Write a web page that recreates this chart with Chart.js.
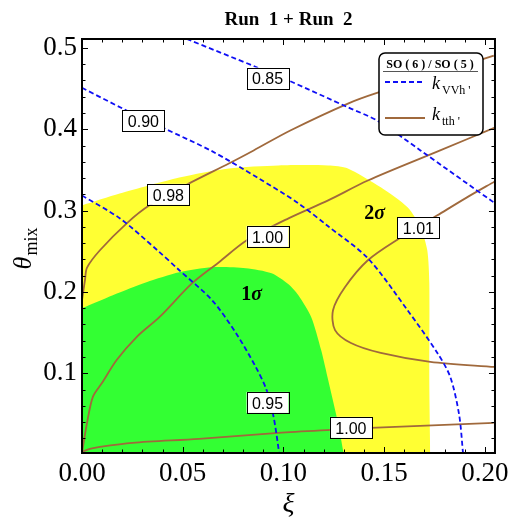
<!DOCTYPE html>
<html>
<head>
<meta charset="utf-8">
<script src="https://cdn.jsdelivr.net/npm/chart.js@4.4.1/dist/chart.umd.min.js"></script>
<style>
  html, body { margin: 0; padding: 0; background: #fff; }
</style>
</head>
<body>
<canvas id="chart" width="514" height="526"></canvas>
<script>
// ---- data (xi, theta_mix) ----
// k_VVh' contours (blue dashed)
const vvh085Xi    = [0.052, 0.087, 0.1025, 0.132, 0.147, 0.168, 0.205];
const vvh085Theta = [0.511, 0.476, 0.460, 0.427, 0.410, 0.374, 0.309];
const vvh090Xi    = [0, 0.0202, 0.0409, 0.0645, 0.0877, 0.1074, 0.1222, 0.1419, 0.1616, 0.1764, 0.1828, 0.1872, 0.1892];
const vvh090Theta = [0.451, 0.4255, 0.401, 0.3731, 0.3396, 0.309, 0.2807, 0.2414, 0.1775, 0.125, 0.0955, 0.049, 0.0];
const vvh095Xi    = [0, 0.0187, 0.0374, 0.0483, 0.0645, 0.0764, 0.0862, 0.0916, 0.0951, 0.098];
const vvh095Theta = [0.3185, 0.2906, 0.2513, 0.2267, 0.19, 0.1495, 0.108, 0.0796, 0.0464, 0.0];

// k_tth' contours (brown)
const tth098Xi    = [0, 0.0015, 0.0025, 0.0089, 0.0222, 0.0335, 0.0532, 0.0729, 0.0852, 0.1034, 0.132, 0.1468, 0.2044];
const tth098Theta = [0.19, 0.215, 0.230, 0.2513, 0.2844, 0.3065, 0.3335, 0.358, 0.374, 0.3985, 0.4316, 0.445, 0.4905];
const tth100aXi    = [0, 0.0025, 0.0054, 0.0099, 0.0172, 0.0271, 0.0384, 0.0547, 0.068, 0.0818, 0.1025, 0.1222, 0.1419, 0.1778, 0.2049];
const tth100aTheta = [0.0022, 0.039, 0.071, 0.088, 0.1164, 0.1446, 0.169, 0.2108, 0.2366, 0.2635, 0.2905, 0.3126, 0.337, 0.374, 0.4021];
const tth100bXi    = [0, 0.0039, 0.0089, 0.0251, 0.0581, 0.0975, 0.1236, 0.1433, 0.2044];
const tth100bTheta = [0.0034, 0.0071, 0.0096, 0.0145, 0.0194, 0.0267, 0.0304, 0.0329, 0.039];
const tth101Xi    = [0.2049, 0.1911, 0.1764, 0.1576, 0.1419, 0.1305, 0.1246, 0.1256, 0.1335, 0.1483, 0.1729, 0.2049];
const tth101Theta = [0.3359, 0.3163, 0.2942, 0.266, 0.239, 0.2058, 0.1776, 0.1531, 0.1372, 0.125, 0.114, 0.1078];

// allowed regions: upper boundaries
const sigma2Xi    = [0, 0.0187, 0.0483, 0.0729, 0.0975, 0.1222, 0.132, 0.1483, 0.1616, 0.168, 0.1714, 0.1724, 0.1724, 0.1729];
const sigma2Theta = [0.3064, 0.321, 0.3408, 0.3519, 0.3556, 0.3556, 0.3519, 0.3286, 0.304, 0.2795, 0.2513, 0.2108, 0.0918, 0.0];
const sigma1Xi    = [0, 0.0153, 0.032, 0.0483, 0.0645, 0.0813, 0.0941, 0.1025, 0.1074, 0.1138, 0.1187, 0.1222, 0.1271, 0.13];
const sigma1Theta = [0.18, 0.196, 0.212, 0.2243, 0.2304, 0.2292, 0.223, 0.2095, 0.196, 0.169, 0.1286, 0.0918, 0.039, 0.0];

// contour labels
const labelText  = ['0.85', '0.90', '0.98', '1.00', '1.01', '0.95', '1.00'];
const labelXi    = [0.0921, 0.0305, 0.0429, 0.0921, 0.167, 0.0921, 0.1335];
const labelTheta = [0.463, 0.4107, 0.32, 0.2684, 0.2789, 0.0642, 0.0335];

// region labels
const regionNum   = ['1', '2'];
const regionXi    = [0.0842, 0.1453];
const regionTheta = [0.1985, 0.2979];

// ticks
const xTicks = [0, 0.05, 0.10, 0.15, 0.20];
const yTicks = [0.1, 0.2, 0.3, 0.4, 0.5];
const xMinor = [0.01, 0.02, 0.03, 0.04, 0.06, 0.07, 0.08, 0.09, 0.11, 0.12, 0.13, 0.14, 0.16, 0.17, 0.18, 0.19];
const yMinor = [0.02, 0.04, 0.06, 0.08, 0.12, 0.14, 0.16, 0.18, 0.22, 0.24, 0.26, 0.28, 0.32, 0.34, 0.36, 0.38, 0.42, 0.44, 0.46, 0.48];

const BLUE = '#0f0ff5';
const BROWN = '#a0693c';
const SERIF = "'Liberation Serif', 'DejaVu Serif', serif";
const SANS = "'Liberation Sans', Arial, sans-serif";

function pts(xs, ys) {
    return xs.map((x, i) => ({ x: x, y: ys[i] }));
}

function blueLine(xs, ys) {
    return { data: pts(xs, ys), showLine: true, borderColor: BLUE, borderWidth: 1.8,
             borderDash: [5, 3], pointRadius: 0, tension: 0.3, fill: false };
}
function brownLine(xs, ys) {
    return { data: pts(xs, ys), showLine: true, borderColor: BROWN, borderWidth: 1.8,
             pointRadius: 0, tension: 0.3, fill: false };
}
function region(xs, ys, color) {
    return { data: pts(xs, ys), showLine: true, borderColor: 'rgba(0,0,0,0)', borderWidth: 0,
             backgroundColor: color, pointRadius: 0, tension: 0.25, fill: 'start' };
}

// labels, frame ticks, legend and axis titles
const overlay = {
    id: 'overlay',
    afterDatasetsDraw(chart) {
        const { ctx, chartArea: a, scales: { x, y } } = chart;
        ctx.save();

        // contour labels
        ctx.font = '16px ' + SANS;
        ctx.textAlign = 'center';
        ctx.textBaseline = 'middle';
        labelText.forEach((t, i) => {
            const px = x.getPixelForValue(labelXi[i]);
            const py = y.getPixelForValue(labelTheta[i]);
            const w = 42, h = 21;
            ctx.fillStyle = '#fff';
            ctx.fillRect(px - w / 2, py - h / 2, w, h);
            ctx.strokeStyle = '#000';
            ctx.lineWidth = 1;
            ctx.strokeRect(Math.round(px - w / 2) + 0.5, Math.round(py - h / 2) + 0.5, w, h);
            ctx.fillStyle = '#000';
            ctx.fillText(t, px, py + 2);
        });

        // 1 sigma / 2 sigma
        ctx.textAlign = 'left';
        ctx.textBaseline = 'alphabetic';
        regionNum.forEach((n, i) => {
            const px = x.getPixelForValue(regionXi[i]);
            const py = y.getPixelForValue(regionTheta[i]);
            ctx.font = 'bold 20px ' + SERIF;
            const w1 = ctx.measureText(n).width;
            ctx.font = 'italic bold 20px ' + SERIF;
            const w2 = ctx.measureText('σ').width;
            const x0 = px - (w1 + w2) / 2;
            ctx.fillStyle = '#000';
            ctx.font = 'bold 20px ' + SERIF;
            ctx.fillText(n, x0, py + 7);
            ctx.font = 'italic bold 20px ' + SERIF;
            ctx.fillText('σ', x0 + w1, py + 7);
        });

        // frame with inward ticks on all sides
        ctx.strokeStyle = '#000';
        ctx.lineWidth = 1;
        ctx.beginPath();
        const tickX = (v, len) => {
            const px = Math.round(x.getPixelForValue(v)) + 0.5;
            ctx.moveTo(px, a.bottom); ctx.lineTo(px, a.bottom - len);
            ctx.moveTo(px, a.top); ctx.lineTo(px, a.top + len);
        };
        const tickY = (v, len) => {
            const py = Math.round(y.getPixelForValue(v)) + 0.5;
            ctx.moveTo(a.left, py); ctx.lineTo(a.left + len, py);
            ctx.moveTo(a.right, py); ctx.lineTo(a.right - len, py);
        };
        xTicks.forEach(v => tickX(v, 6));
        xMinor.forEach(v => tickX(v, 3.5));
        yTicks.forEach(v => tickY(v, 6));
        yMinor.forEach(v => tickY(v, 3.5));
        ctx.stroke();
        ctx.lineWidth = 2;
        ctx.strokeRect(a.left, a.top, a.right - a.left, a.bottom - a.top);

        // legend
        const lx = 379, ly = 53, lw = 104, lh = 82;
        ctx.beginPath();
        ctx.roundRect(lx, ly, lw, lh, 6);
        ctx.fillStyle = '#fff';
        ctx.fill();
        ctx.lineWidth = 1.5;
        ctx.strokeStyle = '#000';
        ctx.stroke();

        ctx.fillStyle = '#000';
        ctx.font = 'bold 12px ' + SERIF;
        ctx.textAlign = 'center';
        ctx.fillText('SO ( 6 ) / SO ( 5 )', lx + 51, ly + 15, 96);
        ctx.strokeStyle = '#555';
        ctx.lineWidth = 1;
        ctx.beginPath();
        ctx.moveTo(lx + 4, ly + 18.5); ctx.lineTo(lx + 99, ly + 18.5);
        ctx.stroke();

        ctx.lineWidth = 1.8;
        ctx.strokeStyle = BLUE;
        ctx.setLineDash([5, 3]);
        ctx.beginPath();
        ctx.moveTo(lx + 6, ly + 29); ctx.lineTo(lx + 44, ly + 29);
        ctx.stroke();
        ctx.setLineDash([]);
        ctx.strokeStyle = BROWN;
        ctx.beginPath();
        ctx.moveTo(lx + 6, ly + 65); ctx.lineTo(lx + 46, ly + 65);
        ctx.stroke();

        ctx.textAlign = 'left';
        ctx.fillStyle = '#000';
        ctx.font = 'italic 18px ' + SERIF;
        ctx.fillText('k', lx + 53, ly + 36);
        ctx.fillText('k', lx + 53, ly + 67);
        ctx.font = '12px ' + SERIF;
        ctx.fillText("VVh '", lx + 63, ly + 41);
        ctx.fillText("tth '", lx + 63, ly + 72);

        // axis titles
        ctx.font = 'italic 28px ' + SERIF;
        ctx.textAlign = 'center';
        ctx.textBaseline = 'middle';
        ctx.fillText('ξ', (a.left + a.right) / 2, 505);

        ctx.translate(22, 249);
        ctx.rotate(-Math.PI / 2);
        ctx.textAlign = 'left';
        ctx.textBaseline = 'alphabetic';
        ctx.font = 'italic 26px ' + SERIF;
        const tw = ctx.measureText('θ').width;
        ctx.font = '18px ' + SERIF;
        const mw = ctx.measureText('mix').width;
        const start = -(tw + mw) / 2;
        ctx.font = 'italic 26px ' + SERIF;
        ctx.fillText('θ', start, 9);
        ctx.font = '18px ' + SERIF;
        ctx.fillText('mix', start + tw + 1, 15);

        ctx.restore();
    }
};

new Chart(document.getElementById('chart'), {
    type: 'scatter',
    data: {
        datasets: [
            blueLine(vvh085Xi, vvh085Theta),
            blueLine(vvh090Xi, vvh090Theta),
            blueLine(vvh095Xi, vvh095Theta),
            brownLine(tth098Xi, tth098Theta),
            brownLine(tth100aXi, tth100aTheta),
            brownLine(tth100bXi, tth100bTheta),
            brownLine(tth101Xi, tth101Theta),
            region(sigma1Xi, sigma1Theta, '#33ff33'),
            region(sigma2Xi, sigma2Theta, '#ffff33')
        ]
    },
    options: {
        responsive: false,
        animation: false,
        layout: { padding: { left: 0, right: 16, top: 0, bottom: 0 } },
        plugins: {
            legend: { display: false },
            tooltip: { enabled: false },
            title: {
                display: true,
                fullSize: false,
                text: 'Run  1 + Run  2',
                color: '#000',
                font: { family: SERIF, size: 19, weight: 'bold' },
                padding: { top: 9, bottom: 7.2 }
            }
        },
        scales: {
            x: {
                type: 'linear',
                min: 0,
                max: 0.205,
                grid: { display: false, drawTicks: false },
                border: { display: false },
                afterBuildTicks: s => { s.ticks = xTicks.map(v => ({ value: v })); },
                afterFit: s => { s.height = 73; },
                ticks: {
                    padding: 5,
                    color: '#000',
                    autoSkip: false,
                    maxRotation: 0,
                    font: { family: SERIF, size: 27 },
                    callback: v => v.toFixed(2)
                }
            },
            y: {
                type: 'linear',
                min: 0.002,
                max: 0.511,
                grid: { display: false, drawTicks: false },
                border: { display: false },
                afterBuildTicks: s => { s.ticks = yTicks.map(v => ({ value: v })); },
                afterFit: s => { s.width = 82; },
                ticks: {
                    padding: 5,
                    color: '#000',
                    autoSkip: false,
                    font: { family: SERIF, size: 27 },
                    callback: v => v.toFixed(1)
                }
            }
        }
    },
    plugins: [overlay]
});
</script>
</body>
</html>
